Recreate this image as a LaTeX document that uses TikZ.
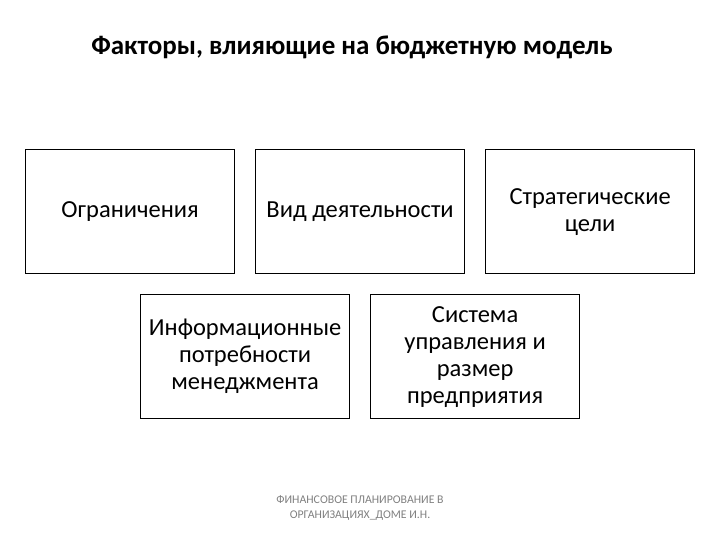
\documentclass[tikz,border=0pt]{standalone}
\usepackage{fontspec}
\setmainfont{Carlito}
\begin{document}
\begin{tikzpicture}[x=1pt,y=-1pt,
  box/.style={draw=black,line width=1.2pt,minimum width=209pt,minimum height=124pt,anchor=north west,align=center,font=\fontsize{24.5}{27}\selectfont,inner sep=0pt}]
\useasboundingbox (0,0) rectangle (720,540);
\node[font=\bfseries\fontsize{27}{30}\selectfont] (title) at (352,47) {Факторы, влияющие на бюджетную модель};
\node[box] (b1) at (25,149) {Ограничения};
\node[box] (b2) at (255,149) {Вид деятельности};
\node[box] (b3) at (485,149) {Стратегические\\цели};
\node[box] (b4) at (140,294) {Информационные\\потребности\\менеджмента};
\node[box] (b5) at (370,294) {Система\\управления и\\размер\\предприятия};
\node[font=\fontsize{11.8}{15}\selectfont,text=gray,align=center] (foot) at (360,508) {ФИНАНСОВОЕ ПЛАНИРОВАНИЕ В\\ОРГАНИЗАЦИЯХ\_ДОМЕ И.Н.};
\end{tikzpicture}
\end{document}
